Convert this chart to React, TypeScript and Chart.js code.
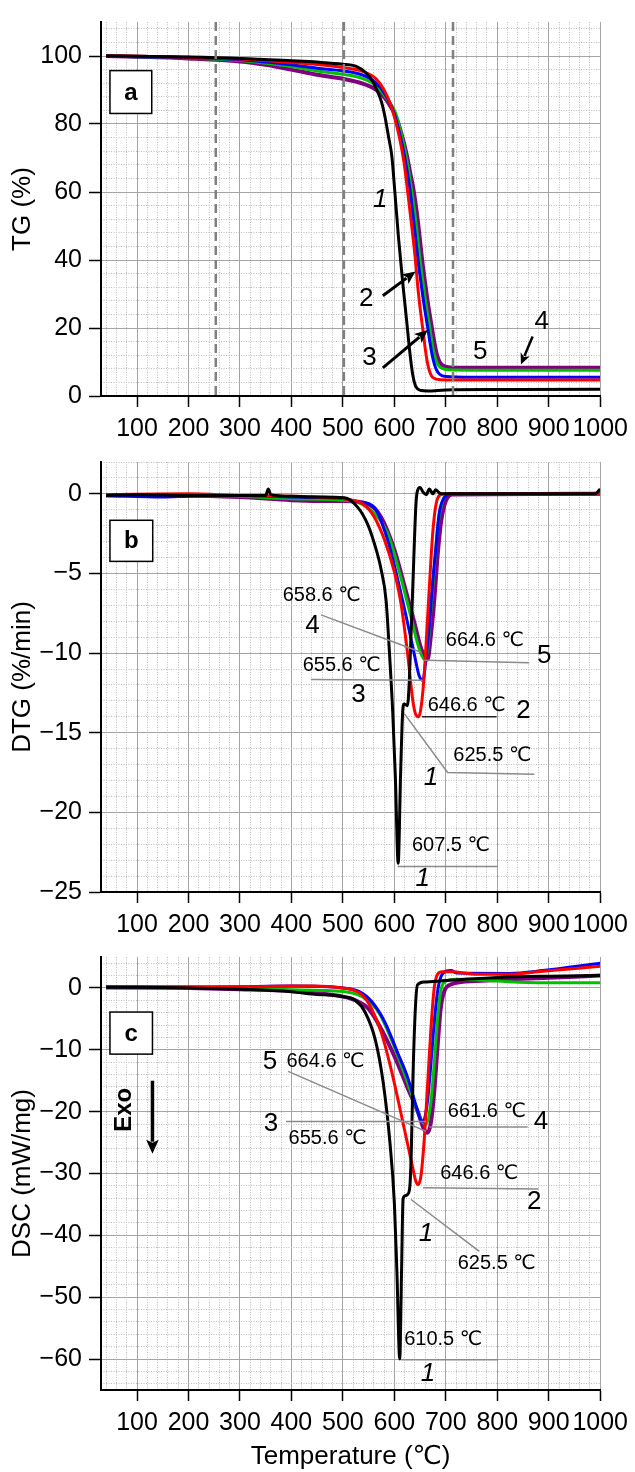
import React, { useEffect, useRef } from "react";
import { Chart, registerables } from "chart.js";
Chart.register(...registerables);

type P = [number, number];

const FONT = "'Liberation Sans', Arial, 'DejaVu Sans', 'Noto Sans CJK SC', sans-serif";

// ---------- tick labels ----------
const xTickValues = [100, 200, 300, 400, 500, 600, 700, 800, 900, 1000];
const tgTickValues = [0, 20, 40, 60, 80, 100];
const dtgTickValues = [-25, -20, -15, -10, -5, 0];
const dscTickValues = [-60, -50, -40, -30, -20, -10, 0];

const seriesNames = ["1", "2", "3", "4", "5"];
const seriesColors = ["#000000", "#ff0000", "#0000ff", "#00c000", "#800080"];

// ---------- TG (%) ----------
const tg1: P[] = [[40,100],[100,99.9],[200,99.7],[300,99.3],[400,98.6],[450,98.2],[500,97.6],[525,97],[545,95],[558,92.5],[566,90],[575,86.5],[582,82],[589,76],[595,70.7],[601,60],[608,46.7],[617,32.3],[624,22],[630,13],[636,6],[641,3],[646,2],[652,1.6],[665,1.5],[700,1.8],[800,1.9],[1000,2.0]];
const tg2: P[] = [[40,100],[100,99.9],[200,99.6],[300,99.1],[400,98.1],[450,97.5],[500,96.6],[540,95.4],[565,93.2],[580,90],[592,86],[602,81],[610,76],[619,68.5],[626,60],[631,53.5],[636,47],[641,40],[645,33],[650,26],[655,20],[660,14],[664,10],[669,7],[675,5.4],[690,4.8],[750,4.7],[1000,4.7]];
const tg3: P[] = [[40,100],[100,99.8],[200,99.5],[300,98.9],[400,97.4],[450,96.4],[500,95.6],[540,94.3],[565,92],[585,88],[600,83],[609,78],[618,72],[625,66],[631,60],[636,53.5],[641,47],[646,40],[652,33],[658,26.5],[665,20],[670,15],[675,11],[681,8],[688,6.4],[700,5.7],[750,5.5],[1000,5.5]];
const tg4: P[] = [[40,100],[100,99.8],[200,99.4],[300,98.7],[400,96.9],[450,95.6],[500,94.6],[540,93.3],[565,91.2],[585,87.5],[603,83],[612,78],[621,72],[628,66],[634,60],[640,53.5],[645,47],[650,40],[656,33],[662,26.5],[669,20],[674,15],[679,11.5],[685,9.2],[692,8.2],[705,7.7],[750,7.6],[1000,7.6]];
const tg5: P[] = [[40,100],[100,99.8],[200,99.3],[300,98.4],[350,97.4],[400,96],[450,94.5],[500,93.3],[540,91.8],[565,90],[585,87],[606,81],[615,76.5],[624,71],[631,65.5],[638,60],[644,53.5],[649,47],[654,40],[660,33],[666,26.5],[673,20],[678,15.5],[683,12],[689,9.8],[696,8.8],[710,8.4],[750,8.3],[1000,8.3]];

// ---------- DTG (%/min) ----------
const dtg1: P[] = [[40,-0.1],[100,-0.05],[200,-0.1],[300,-0.1],[350,-0.1],[355,0.3],[360,-0.05],[400,-0.15],[450,-0.2],[503,-0.25],[529,-0.85],[548,-1.9],[561,-3.1],[574,-4.7],[584,-6.7],[590,-9.7],[597,-13.8],[602,-17.8],[607.5,-23.2],[612,-17.8],[616,-13.8],[619,-13.2],[625.5,-13.3],[629,-11.8],[636,-5.7],[642,-0.65],[645,0.2],[650,0.4],[656,0.1],[662,-0.05],[668,0.3],[675,0],[680,0.25],[688,0.05],[697,0],[800,0],[900,0],[990,0],[1000,0.3]];
const dtg2: P[] = [[40,-0.05],[200,0],[300,-0.1],[400,-0.15],[450,-0.2],[509,-0.35],[540,-0.65],[561,-1.45],[581,-2.9],[600,-4.9],[613,-6.9],[626,-10.1],[636,-13],[641,-13.8],[646.6,-14],[651,-13.6],[657,-11.8],[663,-8.7],[669,-5.3],[675,-2.3],[681,-0.65],[690,-0.05],[700,0],[1000,0]];
const dtg3: P[] = [[40,-0.1],[150,-0.2],[200,-0.15],[300,-0.1],[400,-0.2],[500,-0.3],[530,-0.5],[561,-0.85],[587,-2.9],[606,-5.3],[623,-7.7],[639,-10.1],[648,-11.4],[655.6,-11.7],[661,-10.5],[668,-8.3],[674,-5.7],[681,-3.3],[687,-1.25],[697,-0.24],[710,0],[1000,0]];
const dtg4: P[] = [[40,-0.1],[200,-0.1],[300,-0.15],[400,-0.3],[500,-0.4],[540,-0.7],[587,-2.5],[613,-5.3],[632,-7.7],[648,-9.7],[658.6,-10.4],[665,-9.7],[671,-7.3],[678,-4.5],[684,-2.1],[694,-0.45],[705,0],[1000,0]];
const dtg5: P[] = [[40,-0.1],[200,-0.1],[300,-0.2],[400,-0.4],[450,-0.45],[500,-0.45],[549,-0.65],[574,-1.45],[600,-3.5],[619,-5.7],[639,-8.1],[652,-9.7],[664.6,-10.4],[671,-8.9],[678,-6.5],[684,-3.9],[691,-1.7],[700,-0.45],[713,-0.04],[1000,0]];

// ---------- DSC (mW/mg) ----------
const dsc1: P[] = [[40,0.1],[100,0.1],[200,0],[300,-0.2],[400,-0.6],[441,-1.0],[500,-1.4],[524,-2.0],[543,-3.9],[563,-8.4],[578,-15.1],[591,-24.6],[600,-34.7],[605,-45.9],[610.5,-60],[614,-45.9],[617,-34.1],[621,-33.6],[625.5,-33.4],[630,-32.2],[633,-26.3],[636,-15.1],[640.5,-3.9],[645,0.5],[658,0.95],[700,1.2],[800,1.7],[900,1.9],[1000,2.0]];
const dsc2: P[] = [[40,0.2],[200,0.2],[300,0.2],[400,0.3],[441,0.3],[500,0],[518,-0.3],[537,-1.1],[556,-3.4],[575,-7.3],[594.5,-13.4],[614,-20.7],[633,-28],[642,-31.3],[646.6,-31.8],[652,-30.2],[658,-24.6],[665,-15.1],[671,-6.7],[677.5,0],[684,2.2],[693,2.6],[710,2.6],[760,2.2],[824,2.2],[888,2.7],[1000,3.5]];
const dsc3: P[] = [[40,0.1],[200,0.1],[300,0.2],[400,0.3],[500,0],[531,-0.56],[556,-2.2],[582,-5.6],[607,-10.6],[626,-14.5],[642,-19],[651,-21.3],[655.6,-21.6],[659,-21.1],[665,-17.9],[671,-12.3],[677.5,-5.6],[684,-0.56],[690,1.7],[700,2.7],[710,2.8],[722,2.4],[824,2.35],[888,2.8],[1000,4.0]];
const dsc4: P[] = [[40,0],[200,0],[300,-0.1],[400,-0.3],[500,-0.56],[537,-1.4],[569,-3.9],[594.5,-8.4],[620,-14],[639,-18.5],[652,-21.3],[661.6,-22.1],[671,-18.5],[677.5,-12.3],[684,-5],[690,-0.56],[700,1.1],[722,1.4],[799,1.1],[888,0.84],[1000,0.84]];
const dsc5: P[] = [[40,0.1],[200,0],[300,-0.2],[400,-0.5],[441,-0.8],[500,-1.4],[524,-2.0],[550,-3.4],[575,-6.7],[601,-11.2],[626,-16.2],[646,-20.1],[658,-22.9],[664.6,-23.4],[671,-21.8],[677.5,-16.8],[684,-9.5],[690,-3.4],[697,-0.56],[710,0.56],[760,1.1],[824,1.4],[888,1.6],[1000,2.0]];

// ---------- annotations (data coordinates) ----------
type Ann =
  | { t: "line"; pts: P[]; color?: string }
  | { t: "text"; x: number; y: number; s: string; size: number; italic?: boolean; bold?: boolean; align?: CanvasTextAlign; rot?: number }
  | { t: "arrow"; from: P; to: P; w?: number; head?: number }
  | { t: "box"; x1: number; y1: number; x2: number; y2: number; s: string }
  | { t: "vdash"; x: number };

const annA: Ann[] = [
  { t: "vdash", x: 253 }, { t: "vdash", x: 502 }, { t: "vdash", x: 714 },
  { t: "box", x1: 47.4, y1: 95.7, x2: 128.6, y2: 83.1, s: "a" },
  { t: "text", x: 572.8, y: 57.7, s: "1", size: 26, italic: true },
  { t: "text", x: 545.2, y: 28.7, s: "2", size: 26 },
  { t: "arrow", from: [577.6, 29.5], to: [641, 36.6] },
  { t: "text", x: 551.8, y: 11.2, s: "3", size: 26 },
  { t: "arrow", from: [577.6, 8.3], to: [665, 19.4] },
  { t: "text", x: 766.8, y: 13.1, s: "5", size: 26 },
  { t: "text", x: 886.5, y: 21.8, s: "4", size: 26 },
  { t: "arrow", from: [868.7, 17.5], to: [846, 9.3], w: 2.5, head: 11 },
];

const annB: Ann[] = [
  { t: "box", x1: 47.4, y1: -1.66, x2: 130.5, y2: -4.24, s: "b" },
  { t: "text", x: 383, y: -6.4, s: "658.6 ℃", size: 20, align: "left" },
  { t: "text", x: 441, y: -8.3, s: "4", size: 26 },
  { t: "line", pts: [[457.6, -7.6], [651.9, -9.95]] },
  { t: "text", x: 700, y: -9.2, s: "664.6 ℃", size: 20, align: "left" },
  { t: "text", x: 891.4, y: -10.2, s: "5", size: 26 },
  { t: "line", pts: [[658.3, -10.45], [862.2, -10.6]] },
  { t: "text", x: 421.9, y: -10.75, s: "655.6 ℃", size: 20, align: "left" },
  { t: "line", pts: [[438.2, -11.66], [655, -11.7]] },
  { t: "text", x: 530.4, y: -12.6, s: "3", size: 26 },
  { t: "text", x: 664.7, y: -13.3, s: "646.6 ℃", size: 20, align: "left" },
  { t: "line", pts: [[653.8, -14], [798.7, -14]], color: "#222" },
  { t: "text", x: 851, y: -13.6, s: "2", size: 26 },
  { t: "line", pts: [[619.4, -13.8], [703.5, -17.5], [871.9, -17.6]] },
  { t: "text", x: 790.4, y: -16.4, s: "625.5 ℃", size: 20 },
  { t: "text", x: 671.3, y: -17.8, s: "1", size: 26, italic: true },
  { t: "text", x: 710, y: -22.1, s: "607.5 ℃", size: 20 },
  { t: "line", pts: [[606.4, -23.4], [800.7, -23.4]] },
  { t: "text", x: 655, y: -24.2, s: "1", size: 26, italic: true },
];

const annC: Ann[] = [
  { t: "box", x1: 47.4, y1: -3.9, x2: 130, y2: -10.7, s: "c" },
  { t: "text", x: 74.5, y: -19.7, s: "Exo", size: 24, bold: true, rot: -Math.PI / 2 },
  { t: "arrow", from: [130, -15], to: [130, -26.8], w: 3.5, head: 14 },
  { t: "text", x: 358.5, y: -12, s: "5", size: 26 },
  { t: "text", x: 390.4, y: -11.9, s: "664.6 ℃", size: 20, align: "left" },
  { t: "line", pts: [[393.6, -13.5], [661.6, -23.2]] },
  { t: "text", x: 360.5, y: -22, s: "3", size: 26 },
  { t: "line", pts: [[389.6, -21.6], [661.6, -21.6]] },
  { t: "text", x: 470.4, y: -24.3, s: "655.6 ℃", size: 20 },
  { t: "text", x: 779.7, y: -20, s: "661.6 ℃", size: 20 },
  { t: "text", x: 885, y: -21.7, s: "4", size: 26 },
  { t: "line", pts: [[668, -22.5], [859, -22.5]] },
  { t: "text", x: 765, y: -30, s: "646.6 ℃", size: 20 },
  { t: "line", pts: [[656, -32.3], [880, -32.5]] },
  { t: "text", x: 872, y: -34.6, s: "2", size: 26 },
  { t: "line", pts: [[632.4, -34.2], [765.1, -42.6]] },
  { t: "text", x: 799, y: -44.5, s: "625.5 ℃", size: 20 },
  { t: "text", x: 661.6, y: -39.7, s: "1", size: 26, italic: true },
  { t: "text", x: 695, y: -56.9, s: "610.5 ℃", size: 20 },
  { t: "line", pts: [[613.7, -60.1], [802, -60.1]] },
  { t: "text", x: 665.3, y: -62.4, s: "1", size: 26, italic: true },
];

// ---------- helpers ----------
const MAJOR = "#a4a4a4";
const MINOR = "#bdbdbd";
const X_MIN = 30;
const X_MAX = 1000;
const TICK_FONT = 25;
const TITLE_FONT = 26;

function fmt(v: number) {
  return v < 0 ? "\u2212" + Math.abs(v) : String(v);
}

function annotationPlugin(items: Ann[]) {
  return {
    id: "ann",
    afterDatasetsDraw(chart: any) {
      const ctx: CanvasRenderingContext2D = chart.ctx;
      const xs = chart.scales.x;
      const ys = chart.scales.y;
      const X = (v: number) => xs.getPixelForValue(v);
      const Y = (v: number) => ys.getPixelForValue(v);
      const area = chart.chartArea;
      ctx.save();
      for (const a of items) {
        if (a.t === "vdash") {
          ctx.beginPath();
          ctx.setLineDash([9, 5]);
          ctx.strokeStyle = "#808080";
          ctx.lineWidth = 2.5;
          ctx.moveTo(X(a.x), area.top);
          ctx.lineTo(X(a.x), area.bottom);
          ctx.stroke();
          ctx.setLineDash([]);
        } else if (a.t === "line") {
          ctx.beginPath();
          ctx.strokeStyle = a.color || "#8a8a8a";
          ctx.lineWidth = 1.5;
          a.pts.forEach((p, i) => (i ? ctx.lineTo(X(p[0]), Y(p[1])) : ctx.moveTo(X(p[0]), Y(p[1]))));
          ctx.stroke();
        } else if (a.t === "text") {
          ctx.save();
          ctx.fillStyle = "#000";
          ctx.font = `${a.italic ? "italic " : ""}${a.bold ? "bold " : ""}${a.size}px ${FONT}`;
          ctx.textAlign = a.align || "center";
          ctx.textBaseline = "middle";
          ctx.translate(X(a.x), Y(a.y));
          if (a.rot) ctx.rotate(a.rot);
          ctx.fillText(a.s, 0, 0);
          ctx.restore();
        } else if (a.t === "arrow") {
          const x1 = X(a.from[0]), y1 = Y(a.from[1]), x2 = X(a.to[0]), y2 = Y(a.to[1]);
          const ang = Math.atan2(y2 - y1, x2 - x1);
          const head = a.head || 13;
          const hw = head * 0.45;
          const bx = x2 - head * Math.cos(ang), by = y2 - head * Math.sin(ang);
          ctx.beginPath();
          ctx.strokeStyle = "#000";
          ctx.lineWidth = a.w || 3;
          ctx.moveTo(x1, y1);
          ctx.lineTo(bx + 2 * Math.cos(ang), by + 2 * Math.sin(ang));
          ctx.stroke();
          ctx.beginPath();
          ctx.fillStyle = "#000";
          ctx.moveTo(x2, y2);
          ctx.lineTo(bx - hw * Math.sin(ang), by + hw * Math.cos(ang));
          ctx.lineTo(bx + 3 * Math.cos(ang), by + 3 * Math.sin(ang));
          ctx.lineTo(bx + hw * Math.sin(ang), by - hw * Math.cos(ang));
          ctx.closePath();
          ctx.fill();
        } else if (a.t === "box") {
          const l = X(a.x1), r = X(a.x2), tp = Y(a.y1), bt = Y(a.y2);
          ctx.fillStyle = "#fff";
          ctx.fillRect(l, tp, r - l, bt - tp);
          ctx.strokeStyle = "#000";
          ctx.lineWidth = 1.5;
          ctx.strokeRect(l, tp, r - l, bt - tp);
          ctx.fillStyle = "#000";
          ctx.font = `bold 24px ${FONT}`;
          ctx.textAlign = "center";
          ctx.textBaseline = "middle";
          ctx.fillText(a.s, (l + r) / 2, (tp + bt) / 2 + 1);
        }
      }
      ctx.restore();
    },
  };
}

function dataset(data: P[], i: number) {
  return {
    label: seriesNames[i],
    data,
    borderColor: seriesColors[i],
    backgroundColor: seriesColors[i],
    borderWidth: i === 4 ? 4 : 3,
    pointRadius: 0,
    cubicInterpolationMode: "monotone" as const,
    fill: false,
  };
}

function range(from: number, to: number, step: number, skip: number) {
  const out: { value: number }[] = [];
  for (let v = from; v <= to + 1e-9; v += step) {
    const r = Math.round(v * 1000) / 1000;
    if (Math.abs(r % skip) > 1e-6) out.push({ value: r });
  }
  return out;
}

interface PanelDef {
  series: P[][];
  yMin: number;
  yMax: number;
  yTicks: number[];
  yMinorStart: number;
  yMinorStep: number;
  yMajorStep: number;
  yTitle: string;
  padTop: number;
  xAxisHeight: number;
  xTitle: boolean;
  ann: Ann[];
}

function buildConfig(p: PanelDef): any {
  return {
    type: "line",
    data: { datasets: p.series.map((s, i) => dataset(s, i)) },
    plugins: [annotationPlugin(p.ann)],
    options: {
      responsive: false,
      animation: false,
      devicePixelRatio: 1,
      layout: { padding: { left: 0, right: 33, top: p.padTop, bottom: 0 } },
      plugins: { legend: { display: false }, tooltip: { enabled: false } },
      scales: {
        x: {
          type: "linear",
          position: "bottom",
          min: X_MIN,
          max: X_MAX,
          afterBuildTicks: (s: any) => { s.ticks = xTickValues.map((v) => ({ value: v })); },
          afterFit: (s: any) => { s.height = p.xAxisHeight; },
          ticks: { font: { family: FONT, size: TICK_FONT }, color: "#000", padding: 7, autoSkip: false, maxRotation: 0, minRotation: 0, callback: (v: number) => String(v) },
          grid: { color: MAJOR, lineWidth: 1, tickColor: "#000", tickLength: 11, tickWidth: 1.5 },
          border: { color: "#000", width: 2 },
          title: { display: p.xTitle, text: "Temperature (℃)", font: { family: FONT, size: TITLE_FONT }, color: "#000", padding: { top: 0, bottom: 0 } },
        },
        xMinor: {
          type: "linear",
          position: "top",
          min: X_MIN,
          max: X_MAX,
          afterBuildTicks: (s: any) => { s.ticks = range(40, 980, 20, 100); },
          afterFit: (s: any) => { s.height = 0; },
          ticks: { display: false },
          grid: { color: MINOR, lineWidth: 1, drawTicks: false },
          border: { display: false, dash: [1, 1.5] },
        },
        y: {
          type: "linear",
          position: "left",
          min: p.yMin,
          max: p.yMax,
          afterBuildTicks: (s: any) => { s.ticks = p.yTicks.map((v) => ({ value: v })); },
          afterFit: (s: any) => { s.width = 101; },
          ticks: { font: { family: FONT, size: TICK_FONT }, color: "#000", padding: 7, autoSkip: false, callback: (v: number) => fmt(v) },
          grid: { color: MAJOR, lineWidth: 1, tickColor: "#000", tickLength: 12, tickWidth: 1.5 },
          border: { color: "#000", width: 2 },
          title: { display: true, text: p.yTitle, font: { family: FONT, size: TITLE_FONT }, color: "#000", padding: { top: 7, bottom: 0 } },
        },
        yMinor: {
          type: "linear",
          position: "right",
          min: p.yMin,
          max: p.yMax,
          afterBuildTicks: (s: any) => { s.ticks = range(p.yMinorStart, p.yMax, p.yMinorStep, p.yMajorStep); },
          afterFit: (s: any) => { s.width = 0; },
          ticks: { display: false },
          grid: { color: MINOR, lineWidth: 1, drawTicks: false },
          border: { display: false, dash: [1, 1.5] },
        },
      },
    },
  };
}

const panelA: PanelDef = {
  series: [tg1, tg2, tg3, tg4, tg5], yMin: 0, yMax: 110, yTicks: tgTickValues, yMinorStart: 4, yMinorStep: 4, yMajorStep: 20,
  yTitle: "TG (%)", padTop: 13, xAxisHeight: 44, xTitle: false, ann: annA,
};
const panelB: PanelDef = {
  series: [dtg1, dtg2, dtg3, dtg4, dtg5], yMin: -25, yMax: 2, yTicks: dtgTickValues, yMinorStart: -24, yMinorStep: 1, yMajorStep: 5,
  yTitle: "DTG (%/min)", padTop: 7, xAxisHeight: 43, xTitle: false, ann: annB,
};
const panelC: PanelDef = {
  series: [dsc1, dsc2, dsc3, dsc4, dsc5], yMin: -65, yMax: 5, yTicks: dscTickValues, yMinorStart: -64, yMinorStep: 2, yMajorStep: 10,
  yTitle: "DSC (mW/mg)", padTop: 8, xAxisHeight: 82, xTitle: true, ann: annC,
};

function Panel({ top, height, def }: { top: number; height: number; def: PanelDef }) {
  const ref = useRef<HTMLCanvasElement>(null);
  useEffect(() => {
    const chart = new Chart(ref.current as HTMLCanvasElement, buildConfig(def));
    return () => chart.destroy();
  }, [def]);
  return (
    <div style={{ position: "absolute", left: 0, top, width: 635, height }}>
      <canvas ref={ref} width={635} height={height} style={{ display: "block", width: 635, height }} />
    </div>
  );
}

export default function App() {
  return (
    <div style={{ position: "absolute", left: 0, top: 0, width: 635, height: 1472, background: "#fff" }}>
      <Panel top={0} height={440} def={panelA} />
      <Panel top={440} height={495} def={panelB} />
      <Panel top={935} height={537} def={panelC} />
    </div>
  );
}
